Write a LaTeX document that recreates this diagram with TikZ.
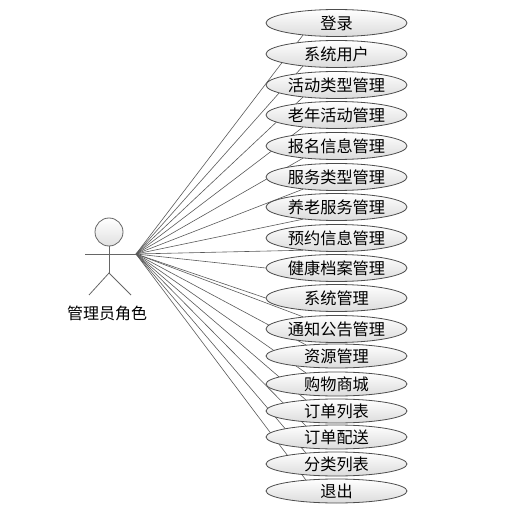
\documentclass[tikz,border=0pt]{standalone}
\usepackage{fontspec}
\newfontfamily\cjkfont{Noto Sans CJK SC}
\usetikzlibrary{shapes.geometric, backgrounds}
\tikzset{
  % Use case ellipses
  usecase/.style={ellipse, draw=black!70, line width=0.8pt, top color=white, bottom color=black!14,
    minimum width=141pt, minimum height=27pt, inner sep=0pt, font=\cjkfont\fontsize{16.2}{16.2}\selectfont},
  smallcase/.style={usecase, minimum height=24pt},
  % Actor parts
  actorline/.style={draw=black!60, line width=0.8pt},
  actorhead/.style={circle, draw=black!60, line width=0.8pt, top color=white, bottom color=black!12, minimum size=28pt, inner sep=0pt},
  % Connectors
  linkline/.style={draw=black!65, line width=0.6pt},
}

\begin{document}
\begin{tikzpicture}[x=1pt, y=-1pt]
  \useasboundingbox (0,0) rectangle (517,513);

  % actor
  \node[actorhead] (head) at (109,232) {};
  \coordinate (hip) at (109,273);
  \coordinate (lefthand) at (85,254);
  \coordinate (hand) at (136,254);
  \coordinate (leftfoot) at (89,295);
  \coordinate (rightfoot) at (131,295);
  \draw[actorline] (head.south) -- (hip);
  \draw[actorline] (lefthand) -- (hand);
  \draw[actorline] (leftfoot) -- (hip) -- (rightfoot);
  \node[font=\cjkfont\fontsize{16}{16}\selectfont] (actorlabel) at (107,313) {管理员角色};

  % use cases
  \foreach \name/\y/\txt in {uc1/23/登录, uc2/54/系统用户, uc3/85/活动类型管理, uc4/115/老年活动管理,
      uc5/146/报名信息管理, uc6/177/服务类型管理, uc7/207/养老服务管理, uc8/238/预约信息管理,
      uc9/268/健康档案管理, uc10/298/系统管理, uc11/329/通知公告管理}
    \node[usecase] (\name) at (336.5,\y) {\txt};
  \foreach \name/\y/\txt in {uc12/356/资源管理, uc13/384/购物商城, uc14/411/订单列表,
      uc15/437/订单配送, uc16/464/分类列表, uc17/491/退出}
    \node[smallcase] (\name) at (336.5,\y) {\txt};

  \begin{scope}[on background layer]
    \foreach \i in {1,...,8}
      \draw[linkline] (hand) -- (uc\i.200);
    \foreach \i in {9,10}
      \draw[linkline] (hand) -- (uc\i.west);
    \foreach \i in {11,...,17}
      \draw[linkline] (hand) -- (uc\i.160);
  \end{scope}

\end{tikzpicture}
\end{document}
